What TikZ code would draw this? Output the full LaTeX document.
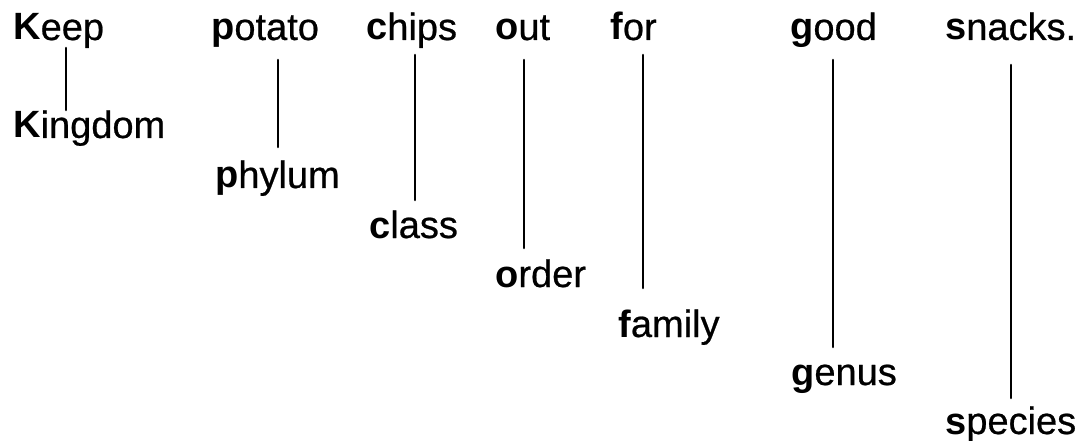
\documentclass[tikz,border=0pt]{standalone}
\usepackage{fontspec}
\setmainfont{Liberation Sans}[UprightFeatures={FakeBold=0.6}]
\tikzset{
  word/.style={anchor=base west, inner sep=0pt, font=\fontsize{38}{40}\selectfont},
  stem/.style={line width=2.6pt, line cap=round}
}
\begin{document}
\begin{tikzpicture}[x=1pt,y=-1pt]
\fill[white] (0,0) rectangle (1082,441);
\useasboundingbox (0,0) rectangle (1082,441);
% top words
\node[word] (keep)   at (13,40)  {\textbf{K}eep};
\node[word] (potato) at (211,40) {\textbf{p}otato};
\node[word] (chips)  at (366,40) {\textbf{c}hips};
\node[word] (out)    at (495,40) {\textbf{o}ut};
\node[word] (for)    at (610,40) {\textbf{f}or};
\node[word] (good)   at (790,40) {\textbf{g}ood};
\node[word] (snacks) at (945,40) {\textbf{s}nacks.};
% bottom words
\node[word] (kingdom) at (13,138)  {\textbf{K}ingdom};
\node[word] (phylum)  at (215,188) {\textbf{p}hylum};
\node[word] (class)   at (369,238) {\textbf{c}lass};
\node[word] (order)   at (495,287) {\textbf{o}rder};
\node[word] (family)  at (618,337) {\textbf{f}amily};
\node[word] (genus)   at (791,385) {\textbf{g}enus};
\node[word] (species) at (945,434) {\textbf{s}pecies};
% stem end points
\coordinate (s1a) at (66,48);    \coordinate (s1b) at (66,110);
\coordinate (s2a) at (278,60);   \coordinate (s2b) at (278,147);
\coordinate (s3a) at (415,55);   \coordinate (s3b) at (415,200);
\coordinate (s4a) at (524,60);   \coordinate (s4b) at (524,248);
\coordinate (s5a) at (643,55);   \coordinate (s5b) at (643,288);
\coordinate (s6a) at (833,60);   \coordinate (s6b) at (833,347);
\coordinate (s7a) at (1011,65);  \coordinate (s7b) at (1011,398);
\draw[stem] (s1a) -- (s1b);
\draw[stem] (s2a) -- (s2b);
\draw[stem] (s3a) -- (s3b);
\draw[stem] (s4a) -- (s4b);
\draw[stem] (s5a) -- (s5b);
\draw[stem] (s6a) -- (s6b);
\draw[stem] (s7a) -- (s7b);
\end{tikzpicture}
\end{document}
